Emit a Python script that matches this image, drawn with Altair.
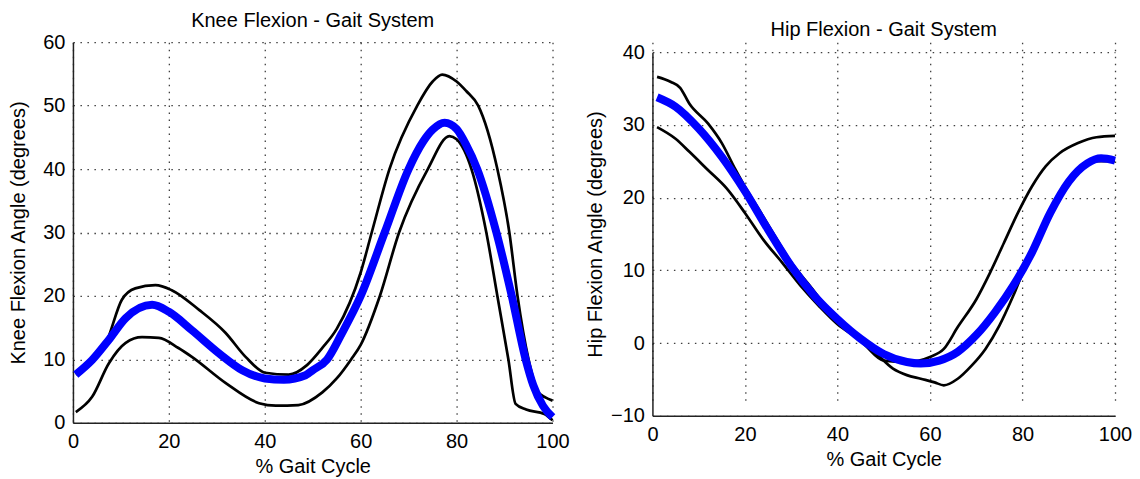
import altair as alt
import pandas as pd

FONT = "Liberation Sans"

# ---------------- Knee flexion (left panel) ----------------
knee_mean_x = [0.6, 4, 7.5, 11, 16.5, 20, 24.8, 30.4, 35.3, 40, 44, 48.5, 50, 53, 56, 60, 65, 70, 73, 75, 77.5, 80, 82, 84.3, 88.3, 91.5, 94.4, 96, 98, 100]
knee_mean_y = [7.6, 9.9, 13.1, 16.5, 18.6, 17.5, 14.6, 11.0, 8.3, 7.0, 6.8, 7.5, 8.3, 10.0, 14.0, 20.0, 30.0, 40.0, 44.3, 46.2, 47.3, 46.3, 43.8, 40.0, 30.0, 20.0, 10.0, 5.9, 2.7, 0.9]

knee_upper_x = [0.6, 4, 6.9, 10.2, 13, 17.2, 20.6, 26.3, 31.8, 36, 40.1, 45, 48.8, 52, 55, 60, 62.3, 66, 71.8, 75, 77, 80, 82, 84.5, 88.5, 91, 92.7, 95, 96.9, 98.5, 100]
knee_upper_y = [7.6, 9.9, 12.6, 19.4, 21.2, 21.7, 20.9, 17.8, 14.2, 10.4, 7.9, 7.6, 9.1, 11.8, 14.8, 23.7, 30.0, 40.0, 50.0, 53.8, 54.9, 53.8, 52.3, 50.0, 40.0, 30.0, 20.0, 10.0, 5.0, 4.0, 3.5]

knee_lower_x = [0.6, 4, 7.5, 11, 14.4, 17.9, 22, 24.8, 31.8, 38.8, 42.3, 47, 52, 55, 58, 60, 64, 68, 74, 78.5, 80, 83.1, 86.2, 88.5, 90.8, 92.3, 94.5, 98.3, 100]
knee_lower_y = [1.7, 4.1, 9.4, 12.6, 13.5, 13.4, 11.8, 10.4, 6.3, 3.1, 2.7, 2.8, 4.8, 7.0, 10.0, 12.3, 20.0, 30.0, 40.0, 45.2, 44.7, 40.0, 30.0, 20.0, 10.0, 3.0, 2.1, 1.4, 0.4]

# ---------------- Hip flexion (right panel) ----------------
hip_mean_x = [1, 5, 10, 15, 20, 25, 30, 35, 40, 45, 50, 55, 58, 62, 66, 70, 74, 78, 82, 86, 90, 94, 97, 100]
hip_mean_y = [33.8, 32.5, 29.5, 25.6, 20.9, 15.6, 10.6, 6.5, 3.3, 0.6, -1.5, -2.6, -2.8, -2.4, -1.2, 1.1, 4.2, 7.9, 12.4, 17.9, 22.2, 24.7, 25.4, 25.1]

hip_upper_x = [1, 4, 6, 8, 12, 15, 18, 20, 23, 26, 30, 34, 38, 42, 46, 50, 55, 60, 63, 66, 70, 73, 76, 79, 82, 85, 88, 92, 96, 100]
hip_upper_y = [36.6, 35.9, 35.1, 32.9, 30.2, 27.5, 23.8, 21.5, 18.4, 15.2, 11.1, 7.9, 4.7, 2.4, -0.3, -2.4, -2.6, -1.9, -0.8, 2.2, 6.0, 9.7, 13.8, 17.9, 21.5, 24.3, 26.1, 27.5, 28.3, 28.5]

hip_lower_x = [1, 5, 8, 12, 16, 20, 24, 28, 32, 36, 40, 44, 48, 52, 55, 58, 61, 63, 66, 69, 72, 75, 78, 81, 84, 88, 92, 96, 100]
hip_lower_y = [29.7, 28.1, 26.3, 23.8, 21.3, 17.9, 14.2, 11.1, 7.9, 5.1, 2.6, 0.8, -1.2, -3.5, -4.4, -4.9, -5.4, -5.8, -4.9, -3.1, -0.8, 2.4, 6.5, 11.1, 14.8, 20.0, 23.5, 25.0, 25.0]

x_ticks = [0, 20, 40, 60, 80, 100]
knee_y_ticks = [0, 10, 20, 30, 40, 50, 60]
hip_y_ticks = [-10, 0, 10, 20, 30, 40]


def make_df(series):
    rows = []
    for name, xs, ys in series:
        for a, b in zip(xs, ys):
            rows.append({"series": name, "x": a, "y": b})
    return pd.DataFrame(rows)


def panel(df_black, df_blue, title, ytitle, ydomain, yvalues, width, height,
          yrange, title_offset, ytitle_x):
    xenc = alt.X(
        "x:Q",
        scale=alt.Scale(domain=[0, 100], nice=False, zero=False),
        axis=alt.Axis(values=x_ticks, title="% Gait Cycle", format="d"),
    )
    yenc = alt.Y(
        "y:Q",
        scale=alt.Scale(domain=ydomain, range=yrange, nice=False, zero=False),
        axis=alt.Axis(values=yvalues, title=ytitle, titleX=ytitle_x,
                      titleAngle=270, titleBaseline="bottom", format="d"),
    )
    black = alt.Chart(df_black).mark_line(
        color="black", strokeWidth=2.7, interpolate="monotone"
    ).encode(x=xenc, y=yenc, detail="series:N")
    blue = alt.Chart(df_blue).mark_line(
        color="#0000ff", strokeWidth=8, interpolate="monotone"
    ).encode(x=xenc, y=yenc)
    return alt.layer(black, blue).properties(
        width=width,
        height=height,
        title=alt.TitleParams(
            text=title, font=FONT, fontSize=20, fontWeight="normal",
            color="black", offset=title_offset, anchor="middle", frame="group",
        ),
    )


knee_black = make_df([("upper", knee_upper_x, knee_upper_y),
                      ("lower", knee_lower_x, knee_lower_y)])
knee_blue = make_df([("mean", knee_mean_x, knee_mean_y)])
hip_black = make_df([("upper", hip_upper_x, hip_upper_y),
                     ("lower", hip_lower_x, hip_lower_y)])
hip_blue = make_df([("mean", hip_mean_x, hip_mean_y)])

left = panel(knee_black, knee_blue, "Knee Flexion - Gait System",
             "Knee Flexion Angle (degrees)", [0, 60], knee_y_ticks,
             480, 381, [381, 0], 1, -44)
right = panel(hip_black, hip_blue, "Hip Flexion - Gait System",
              "Hip Flexion Angle (degrees)", [-10, 40], hip_y_ticks,
              463, 374, [374, 10], 2, -46.5)

chart = alt.hconcat(left, right, spacing=16).properties(
    padding={"left": 0, "top": 3, "right": 0, "bottom": 0},
    background="white",
).configure_view(stroke=None).configure_axis(
    labelFont=FONT, labelFontSize=20, labelColor="black", labelFlush=False,
    titleFont=FONT, titleFontSize=20, titleFontWeight="normal", titleColor="black",
    ticks=False, tickSize=0,
    grid=True, gridColor="black", gridOpacity=0.75, gridWidth=1.3, gridDash=[1.5, 5.5],
    domainColor="#222222", domainWidth=1.5,
).configure_axisX(
    labelPadding=9, titlePadding=5,
).configure_axisY(
    labelPadding=8,
)

chart.save("out.html", embed_options={"renderer": "svg", "actions": False})
